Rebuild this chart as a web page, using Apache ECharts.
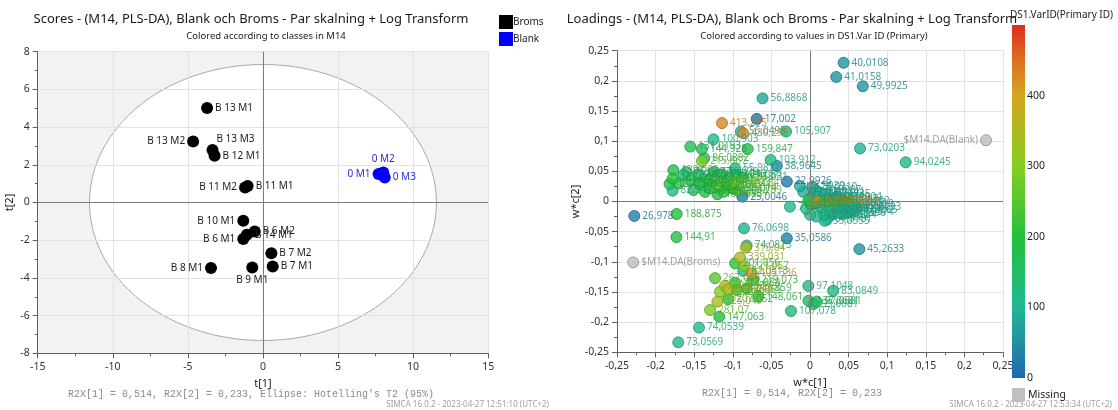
<!DOCTYPE html>
<html><head><meta charset="utf-8">
<script src="https://cdn.jsdelivr.net/npm/echarts@6/dist/echarts.min.js"></script>
<style>html,body{margin:0;padding:0;background:#fff}#c{width:1118px;height:410px}</style>
</head><body><div id="c"></div>
<script>
// ---------------- DATA ----------------
// Scores plot (t[1], t[2])
const scoreNames = ['B 13 M1','B 13 M2','B 13 M3','B 12 M1','B 11 M2','B 11 M1','B 10 M1','B 6 M2','B 14 M1','B 6 M1','B 7 M2','B 7 M1','B 9 M1','B 8 M1','0 M1','0 M2','0 M3'];
const scoreT1 = [-3.72,-4.65,-3.36,-3.22,-1.19,-1.02,-1.31,-0.55,-1.07,-1.31,0.56,0.65,-0.71,-3.46,7.70,8.01,8.11];
const scoreT2 = [5.01,3.24,2.78,2.48,0.80,0.87,-0.97,-1.54,-1.71,-1.94,-2.69,-3.39,-3.45,-3.48,1.51,1.59,1.33];
const scoreClass = ['Broms','Broms','Broms','Broms','Broms','Broms','Broms','Broms','Broms','Broms','Broms','Broms','Broms','Broms','Blank','Blank','Blank'];
const classNames = ['Broms','Blank'];
const ellipseRadiusT1 = 11.55;   // Hotelling's T2 (95%)
const ellipseRadiusT2 = 7.32;

// Loadings plot (w*c[1], w*c[2]) coloured by DS1.VarID
const loadLabels = ['40,0108','41,0158','49,9925','56,8868','17,002','413,295','105,907','56,0495','430,295','100,903',
 '131,0193','144,928','159,847','86,0882','215,867','103,912','38,9645','55,9822','22,9926','25,0046',
 '200,789','26,978','188,875','76,0698','35,0586','144,91','73,0203','94,0245','45,2633','74,0873',
 '315,04','339,031','201,056','221,057','82,0313','405,336','267,069','217,088','219,073','323,055',
 '283,049','351,040','237,059','213,859','148,061','207,052','325,049','281,07','147,063','74,0539',
 '73,0569','97,1048','83,0849','137,0681','97,0681','99,0681','107,078','71,0497',
 '139,062','163,005','127,083','82,9495','75,0377','126,039','175,025','190,036','176,029','185,017',
 '260,043','210,041','121,050','270,087','199,014','181,034','195,046','141,058','205,062','149,021',
 '186,049','215,014','301,084','191,083','166,039','131,031',
 '23,9939','27,0211','28,0210','27,0212','200,025','410,025','445,023','441,025','30,0103','31,0182',
 '32,0264','33,0341','34,0118','36,0497','37,0215','39,0228','42,0107','43,0541','44,0019','46,0065',
 '47,0093','55,0555','61,0564','57,073','42,9904','60,0211','59,0133','62,0289','63,0102','64,0181',
 '65,0396','66,0462','67,0574','68,0141','69,0335','70,0287','190,041','210,044'];
const loadX = [0.0435,0.034,0.0684,-0.0615,-0.069,-0.114,-0.031,-0.0896,-0.0864,-0.125,
 -0.155,-0.140,-0.0807,-0.137,-0.140,-0.051,-0.043,-0.097,-0.030,-0.0877,
 -0.0945,-0.2276,-0.1727,-0.0855,-0.030,-0.173,0.0648,0.124,0.0639,-0.082,
 -0.083,-0.0907,-0.097,-0.0855,-0.0864,-0.0755,-0.123,-0.097,-0.0734,-0.110,
 -0.1166,-0.106,-0.095,-0.082,-0.067,-0.106,-0.120,-0.1295,-0.1175,-0.1438,
 -0.1706,-0.0022,0.030,-0.002,0.0087,0.0044,-0.0246,-0.026,
 -0.177,-0.178,-0.182,-0.178,-0.160,-0.164,-0.151,-0.136,-0.125,-0.1425,
 -0.121,-0.108,-0.095,-0.1166,-0.101,-0.132,-0.115,-0.105,-0.130,-0.145,
 -0.170,-0.112,-0.098,-0.120,-0.155,-0.087,
 -0.013,-0.0087,0.003,0.005,0.0,0.011,0.0194,0.030,0.0,0.005,
 0.010,0.015,0.020,0.025,0.030,0.035,0.040,0.045,0.050,0.055,
 0.060,0.019,0.028,0.032,0.035,0.0,-0.005,0.008,0.018,0.022,
 0.040,0.045,0.050,0.013,0.020,0.008,0.005,-0.002];
const loadY = [0.230,0.2065,0.191,0.171,0.137,0.130,0.116,0.116,0.113,0.103,
 0.091,0.087,0.087,0.0716,0.067,0.069,0.059,0.055,0.033,0.008,
 0.019,-0.024,-0.0207,-0.0445,-0.061,-0.059,0.088,0.065,-0.079,-0.073,
 -0.0766,-0.093,-0.1025,-0.107,-0.115,-0.119,-0.127,-0.1347,-0.130,-0.140,
 -0.1496,-0.1456,-0.1468,-0.144,-0.158,-0.162,-0.166,-0.180,-0.191,-0.209,
 -0.2335,-0.140,-0.148,-0.1645,-0.166,-0.170,-0.1816,-0.0086,
 0.052,0.038,0.029,0.018,0.049,0.044,0.019,0.016,0.049,0.030,
 0.027,0.027,0.044,0.033,0.022,0.036,0.045,0.040,0.022,0.045,
 0.030,0.016,0.030,0.012,0.035,0.040,
 0.0257,0.016,0.024,0.012,-0.003,0.0,0.0,-0.002,0.005,-0.005,
 0.008,-0.010,0.005,-0.012,0.004,-0.008,-0.003,-0.012,-0.005,-0.015,
 -0.010,-0.032,-0.022,-0.015,0.008,-0.022,-0.012,-0.025,-0.022,-0.030,
 -0.020,0.000,-0.018,0.015,0.012,0.018,-0.003,0.002];
const loadVarID = [50,55,58,80,18,430,135,92,428,100,
 175,170,185,140,290,120,45,105,25,28,
 285,30,200,95,35,190,92,125,55,95,
 345,352,210,300,100,410,250,215,200,340,
 290,350,230,210,195,205,345,285,190,100,
 105,110,118,150,160,120,130,105,
 180,200,170,115,125,130,175,190,175,185,
 260,210,120,270,200,180,195,140,205,150,
 185,215,300,190,165,130,
 88,82,80,75,205,430,420,415,100,110,
 95,105,90,100,85,95,80,90,75,85,
 70,100,95,90,85,110,120,105,100,95,
 90,85,80,90,95,85,190,210];
// Class-response variables (no VarID -> "Missing")
const missLabels = ['$M14.DA(Blank)','$M14.DA(Broms)'];
const missX = [0.228,-0.229];
const missY = [0.1015,-0.101];

// colour scale ticks
const colorTicks = [0,100,200,300,400,500];

// ---------------- STYLE / BUILD ----------------
const FONT = 'Noto Sans';
const MONO = 'Liberation Mono';
const stops = [[0,[30,104,178]],[100,[32,184,146]],[200,[34,192,58]],[300,[134,206,34]],[400,[212,166,32]],[450,[222,112,30]],[500,[222,44,30]]];
function rgbFor(v){
  for(let i=1;i<stops.length;i++){
    if(v<=stops[i][0]){const a=stops[i-1],b=stops[i];const t=(v-a[0])/(b[0]-a[0]);
      return a[1].map((c,k)=>Math.round(c+(b[1][k]-c)*t));}
  }
  return stops[stops.length-1][1];
}
const css = (c,k)=>'rgb('+c.map(x=>Math.round(x*(k||1))).join(',')+')';
const fmt = v => String(Math.round(v*1000)/1000).replace('.',',');

const labelPos = {'B 13 M2':'left','B 11 M2':'left','B 10 M1':'left','B 6 M1':'left','B 8 M1':'left','0 M1':'left','B 9 M1':'bottom','0 M2':'top'};
const labelOffset = {'B 13 M3':[-4,-11]};

function scoreSeries(cls, color, textColor){
  const data=[];
  scoreNames.forEach((n,i)=>{ if(scoreClass[i]!==cls) return;
    data.push({name:n, value:[scoreT1[i],scoreT2[i]],
      label:{position: labelPos[n]||'right', offset: labelOffset[n]||[0,0]}});
  });
  return {type:'scatter', name:cls, xAxisIndex:0, yAxisIndex:0, symbolSize:12, z:3,
    itemStyle:{color:color, opacity:1},
    label:{show:true, formatter:'{b}', color:textColor, fontFamily:FONT, fontSize:10, distance:2},
    emphasis:{disabled:true}, data};
}

const order = loadVarID.map((v,i)=>i).sort((a,b)=>loadVarID[a]-loadVarID[b]);
const loadData = order.map(i=>{
  const c = rgbFor(loadVarID[i]);
  return {name:loadLabels[i], value:[loadX[i],loadY[i],loadVarID[i]],
    itemStyle:{color:css(c), borderColor:css(c,0.78), borderWidth:1},
    label:{color:css(c,0.85)}};
});
const missData = missLabels.map((n,i)=>({name:n, value:[missX[i],missY[i]],
  label:{position: missX[i]>0?'left':'right'}}));

const gradStops = [];
for(let v=0; v<=500; v+=25) gradStops.push({offset:v/500, color:css(rgbFor(v))});

const axisCommon = {
  axisLine:{show:true, onZero:false, lineStyle:{color:'#606060'}},
  axisTick:{show:true, length:5, lineStyle:{color:'#606060'}},
  minorTick:{show:true, splitNumber:2, length:3, lineStyle:{color:'#606060'}},
  splitLine:{show:true, lineStyle:{color:'#e2e2e2'}},
  axisLabel:{color:'#333', fontFamily:FONT, fontSize:10.5, formatter:fmt},
  nameTextStyle:{color:'#222', fontFamily:FONT, fontSize:11},
  z:1
};

const zeroLine = {silent:true, symbol:'none', label:{show:false},
  lineStyle:{color:'#7a7a7a', width:1, type:'solid'}, emphasis:{disabled:true},
  data:[{xAxis:0},{yAxis:0}]};

const option = {
  animation:false,
  backgroundColor:'#fff',
  textStyle:{fontFamily:FONT},
  grid:[
    {left:37.7, top:51.7, width:450.5, height:301.6},
    {left:617, top:50.7, width:386, height:301.6},
    {left:1012, top:25, width:13, height:353}
  ],
  xAxis:[
    Object.assign({}, axisCommon, {gridIndex:0, type:'value', min:-15, max:15, interval:5, name:'t[1]', nameLocation:'middle', nameGap:25}),
    Object.assign({}, axisCommon, {gridIndex:1, type:'value', min:-0.25, max:0.25, interval:0.05, name:'w*c[1]', nameLocation:'middle', nameGap:25}),
    {gridIndex:2, type:'category', data:[''], show:false}
  ],
  yAxis:[
    Object.assign({}, axisCommon, {gridIndex:0, type:'value', min:-8, max:8, interval:2, name:'t[2]', nameLocation:'middle', nameGap:22}),
    Object.assign({}, axisCommon, {gridIndex:1, type:'value', min:-0.25, max:0.25, interval:0.05, name:'w*c[2]', nameLocation:'middle', nameGap:32}),
    {gridIndex:2, type:'value', min:0, max:500, interval:100, position:'right',
      axisLine:{show:false}, axisTick:{show:false}, splitLine:{show:false},
      axisLabel:{showMaxLabel:false, margin:2, color:'#222', fontFamily:FONT, fontSize:10.5}}
  ],
  legend:{data:classNames, orient:'vertical', left:494, top:10, itemWidth:14, itemHeight:14, itemGap:3,
    icon:'rect', selectedMode:false, textStyle:{fontFamily:FONT, fontSize:10, color:'#222', padding:[0,0,0,-5]}},
  series:[
    {type:'custom', xAxisIndex:0, yAxisIndex:0, z:0, silent:true, clip:false, data:[[0,0]],
      renderItem(params, api){
        const cs = params.coordSys; const pts=[];
        for(let i=0;i<=240;i++){const a=i/240*2*Math.PI;
          pts.push(api.coord([ellipseRadiusT1*Math.cos(a), ellipseRadiusT2*Math.sin(a)]));}
        return {type:'group', children:[
          {type:'rect', shape:{x:cs.x,y:cs.y,width:cs.width,height:cs.height}, style:{fill:'#f2f2f2'}},
          {type:'polygon', shape:{points:pts}, style:{fill:'#ffffff', stroke:'#a8a8a8', lineWidth:1}}
        ]};
      }},
    Object.assign(scoreSeries('Broms','#000000','#1a1a1a'), {markLine:zeroLine}),
    scoreSeries('Blank','#0000ff','#2a2ad8'),
    {type:'scatter', name:'loadings', xAxisIndex:1, yAxisIndex:1, symbolSize:11, z:3,
      label:{show:true, position:'right', distance:2, formatter:'{b}', fontFamily:FONT, fontSize:10},
      emphasis:{disabled:true}, markLine:zeroLine, data:loadData},
    {type:'scatter', name:'missing', xAxisIndex:1, yAxisIndex:1, symbolSize:11, z:3,
      itemStyle:{color:'#bdbdbd', borderColor:'#8c8c8c', borderWidth:1},
      label:{show:true, formatter:'{b}', distance:2, fontFamily:FONT, fontSize:10, color:'#8a8a8a'},
      emphasis:{disabled:true}, data:missData},
    {type:'bar', xAxisIndex:2, yAxisIndex:2, barWidth:'100%', silent:true,
      itemStyle:{color:{type:'linear', x:0, y:1, x2:0, y2:0, colorStops:gradStops}},
      data:[colorTicks[colorTicks.length-1]]}
  ],
  graphic:[
    {type:'text', x:251, y:19, style:{text:'Scores - (M14, PLS-DA), Blank och Broms - Par skalning + Log Transform', fill:'#1a1a1a', font:'13px '+FONT, textAlign:'center', textVerticalAlign:'middle'}},
    {type:'text', x:266, y:36, style:{text:'Colored according to classes in M14', fill:'#222', font:'9.5px '+FONT, textAlign:'center', textVerticalAlign:'middle'}},
    {type:'text', x:792, y:19, style:{text:'Loadings - (M14, PLS-DA), Blank och Broms - Par skalning + Log Transform', fill:'#1a1a1a', font:'13px '+FONT, textAlign:'center', textVerticalAlign:'middle'}},
    {type:'text', x:814, y:36, style:{text:'Colored according to values in DS1.Var ID (Primary)', fill:'#222', font:'9.5px '+FONT, textAlign:'center', textVerticalAlign:'middle'}},
    {type:'text', x:1010, y:15, style:{text:'DS1.VarID(Primary ID)', fill:'#222', font:'10px '+FONT, textAlign:'left', textVerticalAlign:'middle'}},
    {type:'text', x:251, y:394, style:{text:"R2X[1] = 0,514, R2X[2] = 0,233, Ellipse: Hotelling's T2 (95%)", fill:'#8a8a8a', font:'10px '+MONO, textAlign:'center', textVerticalAlign:'middle'}},
    {type:'text', x:792, y:393, style:{text:'R2X[1] = 0,514, R2X[2] = 0,233', fill:'#8a8a8a', font:'10px '+MONO, textAlign:'center', textVerticalAlign:'middle'}},
    {type:'text', x:549, y:405, style:{text:'SIMCA 16.0.2 - 2023-04-27 12:51:10 (UTC+2)', fill:'#a0a0a0', font:'8px '+FONT, textAlign:'right', textVerticalAlign:'middle'}},
    {type:'text', x:1112, y:405, style:{text:'SIMCA 16.0.2 - 2023-04-27 12:53:34 (UTC+2)', fill:'#a0a0a0', font:'8px '+FONT, textAlign:'right', textVerticalAlign:'middle'}},
    {type:'rect', shape:{x:1012, y:388, width:13, height:14}, style:{fill:'#c0c0c0'}},
    {type:'text', x:1028, y:395, style:{text:'Missing', fill:'#222', font:'10.5px '+FONT, textAlign:'left', textVerticalAlign:'middle'}}
  ]
};
const chart = echarts.init(document.getElementById('c'));
chart.setOption(option);
</script>
</body></html>
